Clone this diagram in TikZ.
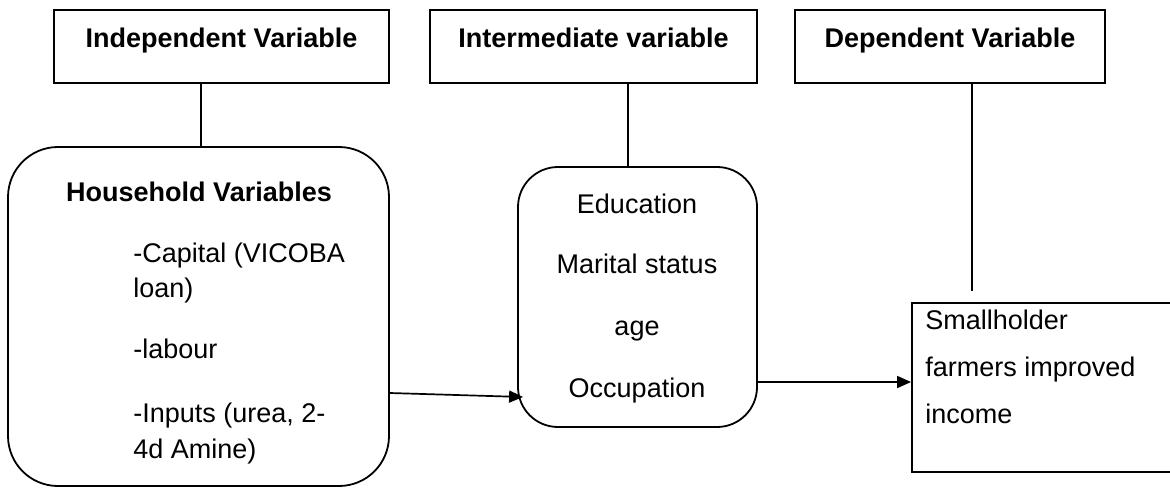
\documentclass[tikz,border=0pt]{standalone}
\usepackage{fontspec}
\setmainfont{Liberation Sans}
\usetikzlibrary{arrows.meta,calc}

\begin{document}
\begin{tikzpicture}[x=0.5pt, y=-0.5pt, >={Triangle[length=7pt,width=6pt]},
	heading/.style={draw, line width=1.1pt, inner xsep=0pt, inner ysep=0pt,
		text height=18.5pt, text depth=18pt, minimum height=36.5pt,
		font=\fontsize{13.5}{16}\selectfont\bfseries},
	varbox/.style={draw, line width=0.9pt, inner sep=0pt},
	textline/.style={inner sep=0pt, anchor=base, font=\fontsize{13.5}{16}\selectfont},
	link/.style={line width=0.85pt}]

		\path[use as bounding box, clip] (0,0) rectangle (1170,487);

		% headings
		\node [heading, minimum width=167.5pt] (indep) at (221.5,46.5) {Independent Variable};
		\node [heading, minimum width=163.5pt] (interm) at (593.5,46.5) {Intermediate variable};
		\node [heading, minimum width=155pt] (dep) at (950,46.5) {Dependent Variable};

		% boxes
		\node [varbox, rounded corners=25pt, minimum width=190.5pt, minimum height=169.5pt] (household) at (198.5,316.5) {};
		\node [varbox, rounded corners=20pt, minimum width=119.5pt, minimum height=130pt] (mediator) at (637.5,297) {};
		\node [varbox, minimum width=150pt, minimum height=84.5pt] (income) at (1062,387.5) {};

		% household variables
		\node [textline, font=\fontsize{13.5}{16}\selectfont\bfseries] (hh-title) at (199,201) {Household Variables};
		\foreach \t/\y [count=\i] in {-Capital (VICOBA/262, loan)/297, -labour/358, {-Inputs (urea, 2-}/422, 4d Amine)/458}
			\node [textline, anchor=base west] (hh-\i) at (133,\y) {\t};

		% intermediate variables
		\foreach \t/\y [count=\i] in {Education/213, Marital status/273, age/335, Occupation/397}
			\node [textline] (med-\i) at (637,\y) {\t};

		% dependent variable
		\foreach \t/\y [count=\i] in {Smallholder/329, farmers improved/376, income/423}
			\node [textline, anchor=base west] (inc-\i) at (925,\y) {\t};

		% lines from headings
		\draw [link] ($(household.north)+(2.5,0)$) -- ($(household.north |- indep.south)+(2.5,0)$);
		\draw [link] ($(mediator.north)+(-9.5,0)$) -- ($(mediator.north |- interm.south)+(-9.5,0)$);
		\draw [link] ($(dep.south)+(22,0)$) -- ($(dep.south |- income.north)+(22,-11)$);

		% arrows between boxes
		\draw [link, ->] ($(household.east)+(0,76.5)$) -- ($(mediator.west)+(6,100)$);
		\draw [link, ->] ($(mediator.east)+(0,85)$) -- ($(income.west)+(0,-5.5)$);

\end{tikzpicture}
\end{document}
